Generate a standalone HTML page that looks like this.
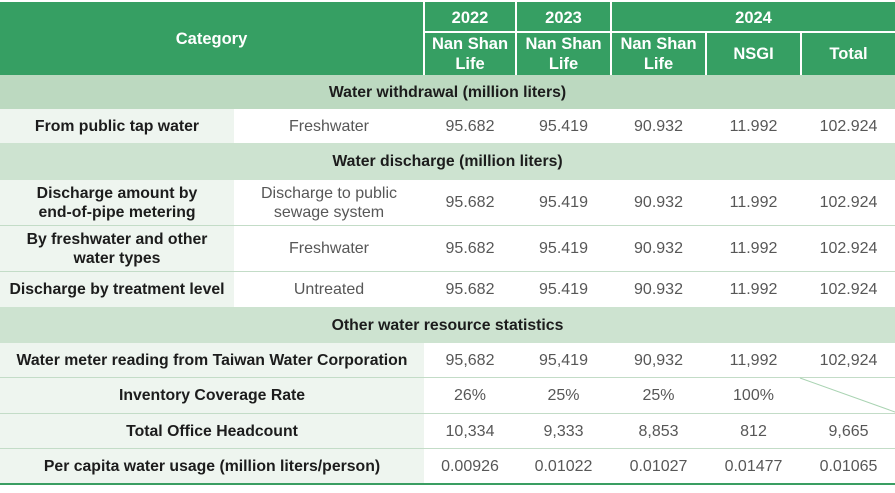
<!DOCTYPE html>
<html><head><meta charset="utf-8">
<style>
html,body{margin:0;padding:0;background:#fff;}
body{width:895px;height:493px;position:relative;overflow:hidden;font-family:"Liberation Sans",Arial,sans-serif;}
.r{position:absolute;}
.c{position:absolute;display:flex;align-items:center;justify-content:center;text-align:center;line-height:19px;}
.h{color:#fff;font-weight:bold;font-size:16.5px;line-height:20px;}
.b{color:#1c1c1c;font-weight:bold;font-size:15.8px;}
.v{color:#575757;font-size:16px;}
</style></head><body>
<!-- header -->
<div class="r" style="left:0;top:2px;width:895px;height:73px;background:#369f63"></div>
<div class="r" style="left:423px;top:2px;width:2px;height:73px;background:#fff"></div>
<div class="r" style="left:425px;top:31px;width:470px;height:2px;background:#fff"></div>
<div class="r" style="left:515px;top:2px;width:2px;height:73px;background:#fff"></div>
<div class="r" style="left:610px;top:2px;width:2px;height:73px;background:#fff"></div>
<div class="r" style="left:705px;top:33px;width:2px;height:42px;background:#fff"></div>
<div class="r" style="left:800px;top:33px;width:2px;height:42px;background:#fff"></div>
<div class="c h" style="left:0;top:2px;width:423px;height:73px">Category</div>
<div class="c h" style="left:425px;top:3px;width:90px;height:29px">2022</div>
<div class="c h" style="left:517px;top:3px;width:93px;height:29px">2023</div>
<div class="c h" style="left:612px;top:3px;width:283px;height:29px">2024</div>
<div class="c h" style="left:425px;top:33px;width:90px;height:42px">Nan Shan<br>Life</div>
<div class="c h" style="left:517px;top:33px;width:93px;height:42px">Nan Shan<br>Life</div>
<div class="c h" style="left:612px;top:33px;width:93px;height:42px">Nan Shan<br>Life</div>
<div class="c h" style="left:707px;top:33px;width:93px;height:42px">NSGI</div>
<div class="c h" style="left:802px;top:33px;width:93px;height:42px">Total</div>

<!-- band 1 -->
<div class="c b" style="left:0;top:75px;width:895px;height:34px;background:#bcd9c0">Water withdrawal (million liters)</div>
<!-- row 1 -->
<div class="c b" style="left:0;top:109px;width:234px;height:34px;background:#eef5ef">From public tap water</div>
<div class="c v" style="left:234px;top:109px;width:190px;height:34px">Freshwater</div>
<div class="c v" style="left:425px;top:109px;width:90px;height:34px">95.682</div>
<div class="c v" style="left:517px;top:109px;width:93px;height:34px">95.419</div>
<div class="c v" style="left:612px;top:109px;width:93px;height:34px">90.932</div>
<div class="c v" style="left:707px;top:109px;width:93px;height:34px">11.992</div>
<div class="c v" style="left:802px;top:109px;width:93px;height:34px">102.924</div>

<!-- band 2 -->
<div class="c b" style="left:0;top:143px;width:895px;height:37px;background:#cde3d0">Water discharge (million liters)</div>
<!-- rows -->
<div class="r" style="left:0;top:180px;width:234px;height:127px;background:#eef5ef"></div>
<div class="r" style="left:0;top:225px;width:895px;height:1px;background:#c3dcc7"></div>
<div class="r" style="left:0;top:271px;width:895px;height:1px;background:#c3dcc7"></div>

<div class="c b" style="left:0;top:180px;width:234px;height:45px">Discharge amount by<br>end-of-pipe metering</div>
<div class="c v" style="left:234px;top:180px;width:190px;height:45px">Discharge to public<br>sewage system</div>
<div class="c v" style="left:425px;top:180px;width:90px;height:45px">95.682</div>
<div class="c v" style="left:517px;top:180px;width:93px;height:45px">95.419</div>
<div class="c v" style="left:612px;top:180px;width:93px;height:45px">90.932</div>
<div class="c v" style="left:707px;top:180px;width:93px;height:45px">11.992</div>
<div class="c v" style="left:802px;top:180px;width:93px;height:45px">102.924</div>

<div class="c b" style="left:0;top:226px;width:234px;height:45px">By freshwater and other<br>water types</div>
<div class="c v" style="left:234px;top:226px;width:190px;height:45px">Freshwater</div>
<div class="c v" style="left:425px;top:226px;width:90px;height:45px">95.682</div>
<div class="c v" style="left:517px;top:226px;width:93px;height:45px">95.419</div>
<div class="c v" style="left:612px;top:226px;width:93px;height:45px">90.932</div>
<div class="c v" style="left:707px;top:226px;width:93px;height:45px">11.992</div>
<div class="c v" style="left:802px;top:226px;width:93px;height:45px">102.924</div>

<div class="c b" style="left:0;top:272px;width:234px;height:35px">Discharge by treatment level</div>
<div class="c v" style="left:234px;top:272px;width:190px;height:35px">Untreated</div>
<div class="c v" style="left:425px;top:272px;width:90px;height:35px">95.682</div>
<div class="c v" style="left:517px;top:272px;width:93px;height:35px">95.419</div>
<div class="c v" style="left:612px;top:272px;width:93px;height:35px">90.932</div>
<div class="c v" style="left:707px;top:272px;width:93px;height:35px">11.992</div>
<div class="c v" style="left:802px;top:272px;width:93px;height:35px">102.924</div>

<!-- band 3 -->
<div class="c b" style="left:0;top:307px;width:895px;height:36px;background:#cde3d0">Other water resource statistics</div>
<div class="r" style="left:0;top:343px;width:424px;height:140px;background:#eef5ef"></div>
<div class="r" style="left:0;top:377px;width:895px;height:1px;background:#c3dcc7"></div>
<div class="r" style="left:0;top:413px;width:895px;height:1px;background:#c3dcc7"></div>
<div class="r" style="left:0;top:448px;width:895px;height:1px;background:#c3dcc7"></div>
<div class="r" style="left:0;top:483px;width:895px;height:2px;background:#3a9e62"></div>
<svg class="r" style="left:0;top:0" width="895" height="493"><line x1="800" y1="378" x2="895" y2="412" stroke="#a9d3b2" stroke-width="1"/></svg>

<div class="c b" style="left:0;top:343px;width:424px;height:34px">Water meter reading from Taiwan Water Corporation</div>
<div class="c v" style="left:425px;top:343px;width:90px;height:34px">95,682</div>
<div class="c v" style="left:517px;top:343px;width:93px;height:34px">95,419</div>
<div class="c v" style="left:612px;top:343px;width:93px;height:34px">90,932</div>
<div class="c v" style="left:707px;top:343px;width:93px;height:34px">11,992</div>
<div class="c v" style="left:802px;top:343px;width:93px;height:34px">102,924</div>

<div class="c b" style="left:0;top:378px;width:424px;height:35px">Inventory Coverage Rate</div>
<div class="c v" style="left:425px;top:378px;width:90px;height:35px">26%</div>
<div class="c v" style="left:517px;top:378px;width:93px;height:35px">25%</div>
<div class="c v" style="left:612px;top:378px;width:93px;height:35px">25%</div>
<div class="c v" style="left:707px;top:378px;width:93px;height:35px">100%</div>

<div class="c b" style="left:0;top:414px;width:424px;height:34px">Total Office Headcount</div>
<div class="c v" style="left:425px;top:414px;width:90px;height:34px">10,334</div>
<div class="c v" style="left:517px;top:414px;width:93px;height:34px">9,333</div>
<div class="c v" style="left:612px;top:414px;width:93px;height:34px">8,853</div>
<div class="c v" style="left:707px;top:414px;width:93px;height:34px">812</div>
<div class="c v" style="left:802px;top:414px;width:93px;height:34px">9,665</div>

<div class="c b" style="left:0;top:449px;width:424px;height:34px">Per capita water usage (million liters/person)</div>
<div class="c v" style="left:425px;top:449px;width:90px;height:34px">0.00926</div>
<div class="c v" style="left:517px;top:449px;width:93px;height:34px">0.01022</div>
<div class="c v" style="left:612px;top:449px;width:93px;height:34px">0.01027</div>
<div class="c v" style="left:707px;top:449px;width:93px;height:34px">0.01477</div>
<div class="c v" style="left:802px;top:449px;width:93px;height:34px">0.01065</div>
</body></html>
